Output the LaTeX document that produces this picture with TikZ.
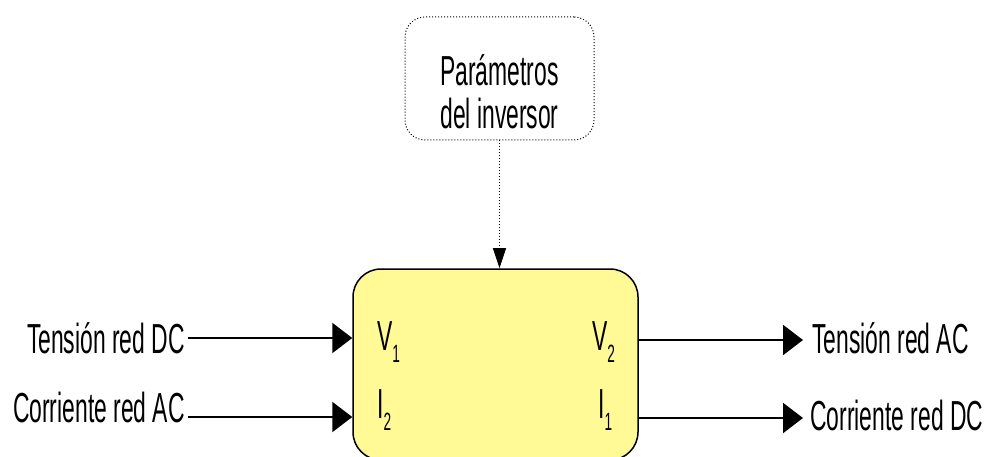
\documentclass[tikz,border=0pt]{standalone}
\usepackage{fontspec}
\setmainfont{Liberation Sans}[FakeStretch=0.545]
\usetikzlibrary{arrows.meta,calc}
\definecolor{boxyellow}{RGB}{255,250,150}
\newcommand\mysub[1]{\raisebox{-12pt}{\fontsize{25}{25}\selectfont #1}}
\begin{document}
\begin{tikzpicture}[x=1pt,y=-1pt,
  lbl/.style={inner sep=0pt, font=\fontsize{42}{41}\selectfont},
  conn/.style={line width=2.2pt, -{Triangle[length=20pt,width=30pt]}},
  ctl/.style={dotted, line width=1pt, -{Triangle[length=20pt,width=13pt]}},
  blockbox/.style={draw, line width=1.5pt, fill=boxyellow, rounded corners=28pt, inner sep=0pt},
  parbox/.style={draw, dotted, line width=1pt, rounded corners=20pt, align=center, inner sep=0pt}]
\useasboundingbox (0,0) rectangle (988,457);
\clip (0,0) rectangle (988,457);

\node[blockbox, minimum width=285pt, minimum height=191pt] (inv) at (495.5,364.5) {};
\node[parbox, lbl, minimum width=189pt, minimum height=123pt] (par) at (499.5,78.5) {\rule{0pt}{57pt}Parámetros\\[2pt]del inversor};

\node[lbl, anchor=base west] (v1) at (377,350) {V\mysub{1}};
\node[lbl, anchor=base west] (i2) at (377,418) {I\mysub{2}};
\node[lbl, anchor=base west] (v2) at (592,350) {V\mysub{2}};
\node[lbl, anchor=base west] (i1) at (598,418) {I\mysub{1}};

\node[lbl, anchor=base east] (tdc) at (185,353) {Tensión red DC};
\node[lbl, anchor=base east] (cac) at (185,422) {Corriente red AC};
\node[lbl, anchor=base west] (tac) at (812,353) {Tensión red AC};
\node[lbl, anchor=base west] (cdc) at (810,430) {Corriente red DC};

\coordinate (s1) at ([xshift=3pt,yshift=15pt]tdc.base east);
\coordinate (s2) at ([xshift=3pt,yshift=5pt]cac.base east);
\coordinate (e1) at ([xshift=-9pt,yshift=13pt]tac.base west);
\coordinate (e2) at ([xshift=-7pt,yshift=12pt]cdc.base west);

\draw[conn] (s1) -- (inv.west |- s1);
\draw[conn] (s2) -- (inv.west |- s2);
\draw[conn] (inv.east |- e1) -- (e1);
\draw[conn] (inv.east |- e2) -- (e2);
\draw[ctl] (par.south) -- (par.south |- inv.north);
\end{tikzpicture}
\end{document}
